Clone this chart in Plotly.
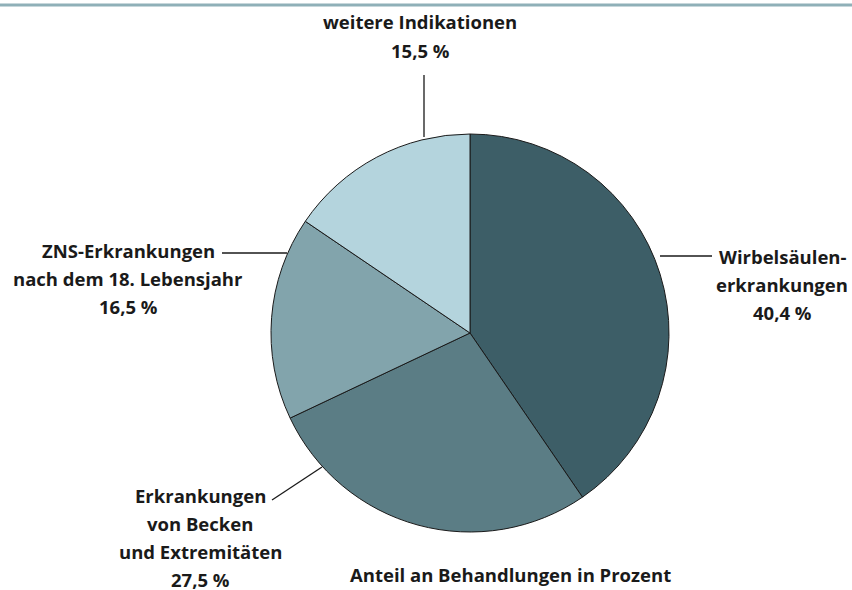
import plotly.graph_objects as go

labels = ["Wirbelsäulenerkrankungen", "Erkrankungen von Becken und Extremitäten",
          "ZNS-Erkrankungen nach dem 18. Lebensjahr", "weitere Indikationen"]
values = [40.4, 27.5, 16.5, 15.5]
colors = ["#3d5e67", "#5b7d85", "#82a4ac", "#b4d4dd"]
label_lines = [["Wirbelsäulen-", "erkrankungen", "40,4 %"],
               ["Erkrankungen", "von Becken", "und Extremitäten", "27,5 %"],
               ["ZNS-Erkrankungen", "nach dem 18. Lebensjahr", "16,5 %"],
               ["weitere Indikationen", "15,5 %"]]
title_text = "Anteil an Behandlungen in Prozent"

W, H = 852, 590
def px(x): return x / W
def py(y): return 1 - y / H

FONT = dict(family="Open Sans", size=18.5, color="#1a1a1a", weight=700)
LINE_GAP = 28

fig = go.Figure(go.Pie(
    labels=labels, values=values, sort=False, direction="clockwise", rotation=0,
    marker=dict(colors=colors, line=dict(color="#1a1a1a", width=1)),
    textinfo="none", hoverinfo="label+percent", showlegend=False,
    domain=dict(x=[px(271), px(669)], y=[py(533), py(133)]),
))

# label anchor: center x, baseline of first line (pixels)
label_pos = [(782, 262), (200, 501), (128, 256), (420, 28)]
for lines, (cx, base) in zip(label_lines, label_pos):
    for i, line in enumerate(lines):
        fig.add_annotation(x=px(cx), y=py(base + i * LINE_GAP - 6), xref="paper", yref="paper",
                           text=line, showarrow=False, xanchor="center", yanchor="middle",
                           font=FONT)

fig.add_annotation(x=px(510), y=py(580 - 6), xref="paper", yref="paper", text=title_text,
                   showarrow=False, xanchor="center", yanchor="middle", font=FONT)

# leader lines (pixel coordinates)
leaders = [((660, 256), (712, 256)), ((272, 500), (322, 467)),
           ((222, 253), (287, 253)), ((424, 75), (424, 137))]
for (x0, y0), (x1, y1) in leaders:
    fig.add_shape(type="line", xref="paper", yref="paper", x0=px(x0), y0=py(y0),
                  x1=px(x1), y1=py(y1), line=dict(color="#1a1a1a", width=1.3))

# top rule
fig.add_shape(type="line", xref="paper", yref="paper", x0=0, x1=1, y0=py(5), y1=py(5),
              line=dict(color="#8fb0b8", width=3))

fig.update_layout(width=W, height=H, margin=dict(l=0, r=0, t=0, b=0),
                  paper_bgcolor="white", plot_bgcolor="white")
fig.write_html("out.html", config={"displayModeBar": False},
               post_script="document.body.style.margin='0';")
